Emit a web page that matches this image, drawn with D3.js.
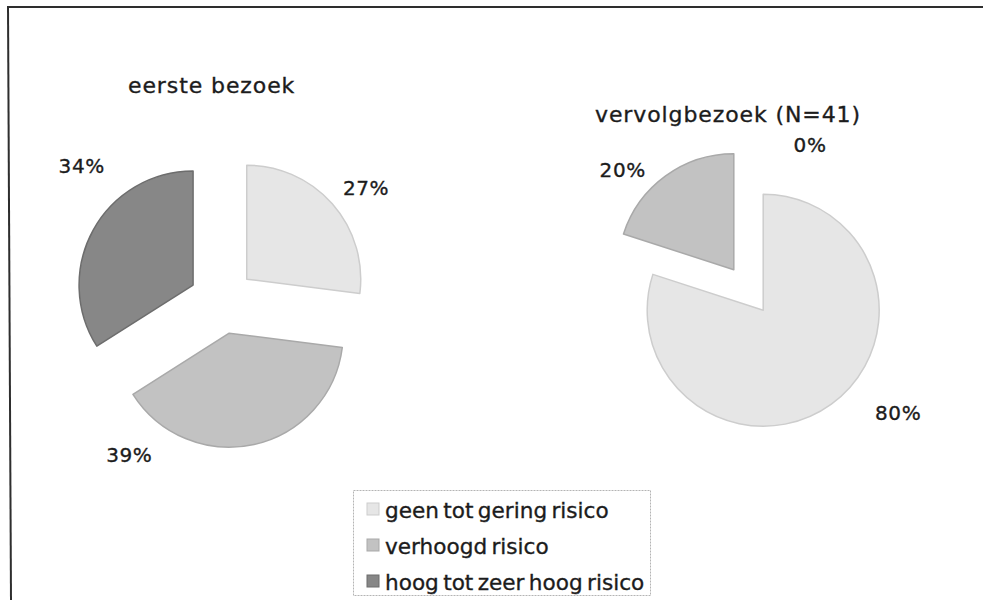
<!DOCTYPE html>
<html><head><meta charset="utf-8">
<script src="https://cdn.jsdelivr.net/npm/d3@7"></script>
<style>
html,body{margin:0;padding:0;background:#fff;}
svg{display:block;font-family:"DejaVu Sans",Verdana,sans-serif;}
</style></head>
<body><svg id="chart" width="983" height="600"></svg>
<script>
// ---- data ----
const categories = ["geen tot gering risico", "verhoogd risico", "hoog tot zeer hoog risico"];
const titles = ["eerste bezoek", "vervolgbezoek (N=41)"];
const firstVisit = [27, 39, 34];
const followUp = [80, 20, 0];
const percentLabels1 = ["27%", "39%", "34%"];
const percentLabels2 = ["80%", "20%", "0%"];

// ---- layout / style ----
const fills = ["#e6e6e6", "#c2c2c2", "#878787"];
const strokes = ["#cdcdcd", "#a9a9a9", "#6d6d6d"];
const textColor = "#1c1c1c";

const pies = [
  {values: firstVisit, labels: percentLabels1, title: titles[0],
   cx: 222, cy: 301, r: 114, explode: 33, titleX: 128, titleY: 93,
   labelAngle: [51.9, 211, 314], labelDist: [183, 180, 195]},
  {values: followUp, labels: percentLabels2, title: titles[1],
   cx: 748.5, cy: 290, r: 116, explode: 25, titleX: 595, titleY: 122,
   labelAngle: [129.5, 313.7, 23], labelDist: [194, 174, 157.5]}
];

const svg = d3.select("#chart");

// frame lines (top and left only)
svg.append("line").attr("x1", 7).attr("y1", 7).attr("x2", 983).attr("y2", 7)
  .attr("stroke", "#2e2e2e").attr("stroke-width", 2);
svg.append("line").attr("x1", 8).attr("y1", 6).attr("x2", 11).attr("y2", 600)
  .attr("stroke", "#2e2e2e").attr("stroke-width", 2);

const pieGen = d3.pie().sort(null).value(d => d).startAngle(0).endAngle(2 * Math.PI);

pies.forEach(p => {
  const arcs = pieGen(p.values);
  const arcGen = d3.arc().innerRadius(0).outerRadius(p.r);
  const g = svg.append("g").attr("transform", `translate(${p.cx},${p.cy})`);
  g.selectAll("path").data(arcs.filter(a => a.value > 0)).join("path")
    .attr("d", arcGen)
    .attr("transform", a => {
      const m = (a.startAngle + a.endAngle) / 2;
      return `translate(${Math.sin(m) * p.explode},${-Math.cos(m) * p.explode})`;
    })
    .attr("fill", a => fills[a.index])
    .attr("stroke", a => strokes[a.index])
    .attr("stroke-width", 1.5)
    .attr("stroke-linejoin", "round");

  g.selectAll("text.lbl").data(arcs).join("text")
    .attr("class", "lbl")
    .attr("x", a => Math.sin(p.labelAngle[a.index] * Math.PI / 180) * p.labelDist[a.index])
    .attr("y", a => -Math.cos(p.labelAngle[a.index] * Math.PI / 180) * p.labelDist[a.index])
    .attr("text-anchor", "middle")
    .attr("dominant-baseline", "central")
    .attr("font-size", 20)
    .attr("letter-spacing", 0.6)
    .attr("fill", textColor)
    .attr("stroke", textColor).attr("stroke-width", 0.35)
    .text(a => p.labels[a.index]);

  svg.append("text")
    .attr("x", p.titleX).attr("y", p.titleY)
    .attr("font-size", 22)
    .attr("letter-spacing", 0.9)
    .attr("fill", textColor)
    .attr("stroke", textColor).attr("stroke-width", 0.35)
    .text(p.title);
});

// legend
const lg = svg.append("g");
lg.append("rect").attr("x", 353.5).attr("y", 490.5).attr("width", 297).attr("height", 105)
  .attr("fill", "#fff").attr("stroke", "#b4b4b4").attr("stroke-width", 1)
  .attr("stroke-dasharray", "2,1");
const rowY = d3.scalePoint().domain(categories).range([518, 590]);
categories.forEach((c, i) => {
  lg.append("rect").attr("x", 367).attr("y", rowY(c) - 15).attr("width", 12).attr("height", 12)
    .attr("fill", fills[i]).attr("stroke", strokes[i]).attr("stroke-width", 1);
  lg.append("text").attr("x", 385).attr("y", rowY(c))
    .attr("font-size", 21.6).attr("word-spacing", -2.5).attr("fill", textColor)
    .attr("stroke", textColor).attr("stroke-width", 0.35)
    .text(c);
});
</script></body></html>
